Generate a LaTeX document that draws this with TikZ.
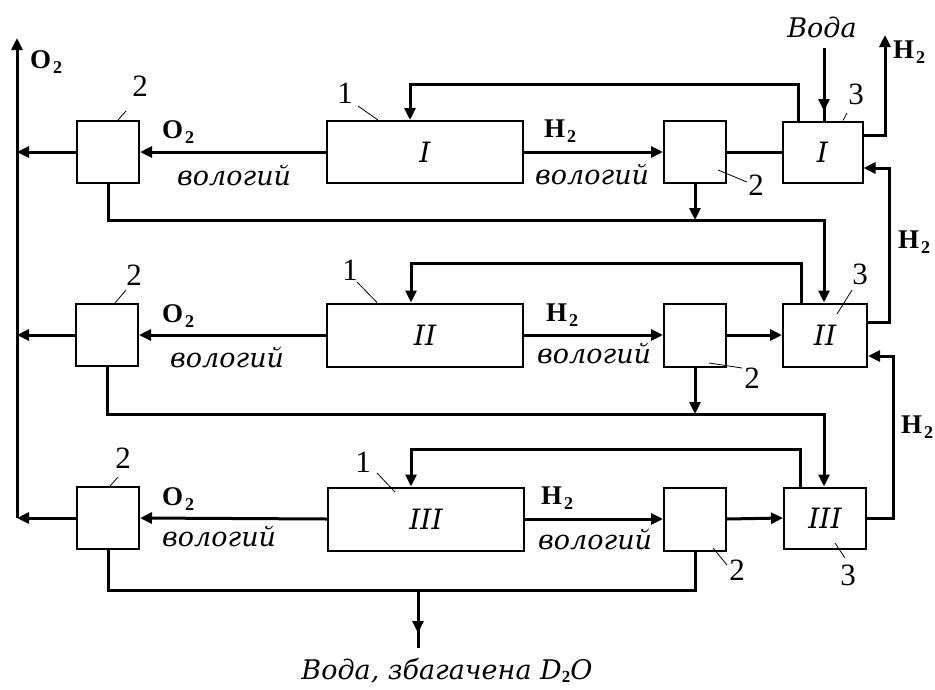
\documentclass[tikz,border=0pt]{standalone}
\usepackage{fontspec}
\setmainfont{Liberation Serif}
\newfontfamily\wfont{DejaVu Serif}
\usetikzlibrary{arrows.meta}
\newcommand\subtwo{\hspace{2pt}\raisebox{-5pt}{\fontsize{18}{18}\selectfont 2}}
\newcommand\subtwob{{\normalfont\bfseries\raisebox{-0.3ex}{\fontsize{17}{17}\selectfont 2}}}
\newcommand\romf{\wfont\itshape\fontsize{28}{28}\selectfont}
\begin{document}
\begin{tikzpicture}[x=1pt,y=-1pt,
  box/.style={draw, line width=2pt, inner sep=0pt},
  smallbox/.style={box, minimum width=62pt, minimum height=62pt},
  bigbox/.style={box, minimum width=196pt, minimum height=62pt, font=\romf},
  sepbox/.style={box, minimum width=80pt, minimum height=61pt, font=\romf},
  conn/.style={line width=3pt},
  arr/.style={conn, -{Triangle[length=12pt,width=11pt]}},
  leader/.style={line width=0.8pt},
  num/.style={font=\fontsize{31}{31}\selectfont, inner sep=0pt},
  chem/.style={font=\bfseries\fontsize{27}{27}\selectfont, inner sep=0pt},
  wet/.style={font=\wfont\itshape\fontsize{27}{27}\selectfont, inner sep=0pt}]
\useasboundingbox (0,0) rectangle (935,689);

% ---------- boxes ----------
\node[smallbox] (L1) at (108,152) {};
\node[bigbox]   (A1) at (425,152) {I};
\node[smallbox] (R1) at (695,152) {};
\node[sepbox]   (S1) at (822.5,152) {I};

\node[smallbox] (L2) at (107,335) {};
\node[bigbox, minimum height=63pt] (A2) at (425,335) {II};
\node[smallbox, minimum height=63pt] (R2) at (695,335) {};
\node[sepbox, minimum width=84pt, minimum height=63pt] (S2) at (825,335) {II};

\node[smallbox] (L3) at (108,518) {};
\node[bigbox, minimum height=63pt] (A3) at (426,519) {III};
\node[smallbox, minimum height=63pt] (R3) at (695,519) {};
\node[sepbox, minimum width=82pt] (S3) at (825,518) {III};

% ---------- left O2 collector ----------
\coordinate (Vb) at (17,518);
\coordinate (Vt) at (17,38);
\draw[arr] (Vb) -- (Vt);
\node[chem, anchor=base west] (o2top) at (30,68) {O\subtwo};
\draw[arr] (L1.west) -- (L1.west -| Vb);
\draw[arr] (L2.west) -- (L2.west -| Vb);
\draw[arr] (L3.west) -- (L3.west -| Vb);

% ---------- row flows ----------
\draw[arr] (A1.west) -- (L1.east);
\draw[arr] (A1.east) -- (R1.west);
\draw[conn] (R1.east) -- (S1.west);
\draw[arr] (A2.west) -- (L2.east);
\draw[arr] (A2.east) -- (R2.west);
\draw[arr] (R2.east) -- (S2.west);
\draw[arr] (A3.west) -- (L3.east);
\draw[arr] (A3.east) -- (R3.west);
\draw[arr] (R3.east) -- (S3.west);

% ---------- feedback loops ----------
\coordinate (F1) at (410,84);
\coordinate (F2) at (411,263);
\coordinate (F3) at (411,449);
\draw[arr] ([xshift=-24.5pt]S1.north) |- (F1) -- (F1 |- A1.north);
\draw[arr] ([xshift=-24pt]S2.north) |- (F2) -- (F2 |- A2.north);
\draw[arr] ([xshift=-25pt]S3.north) |- (F3) -- (F3 |- A3.north);

% ---------- cross links ----------
\coordinate (C1) at (824,220);
\coordinate (C2) at (824,414);
\draw[arr] (L1.south) |- (C1) -- (C1 |- S2.north);
\draw[arr] (R1.south) -- (R1.south |- C1);
\draw[arr] (L2.south) |- (C2) -- (C2 |- S3.north);
\draw[arr] (R2.south) -- (R2.south |- C2);

\coordinate (B) at (418,590);
\coordinate (Bt) at (418,633);
\coordinate (Be) at (418,648);
\draw[conn] (L3.south) |- (B) -| (R3.south);
\draw[conn] (B) -- (Be);
\draw[arr] (B) -- (Bt);
\node[wet, anchor=base] (prod) at (447,679) {Вода, збагачена D\subtwob O};

% ---------- water in, H2 out ----------
\node[wet, anchor=base] (water) at (822,37) {Вода};
\coordinate (W) at (824,48);
\coordinate (Wt) at (824,111);
\draw[conn] (W) -- (W |- S1.north);
\draw[arr] (W) -- (Wt);

\coordinate (Ht) at (885,35);
\draw[arr] ([yshift=17pt]S1.east) -| (Ht);
\node[chem, anchor=base west] (h2top) at (893,58) {H\subtwo};

\coordinate (K1) at (889,168);
\coordinate (K2) at (893,356);
\draw[arr] ([yshift=13pt]S2.east) -| (K1) -- (K1 -| S1.east);
\draw[arr] (S3.east) -| (K2) -- (K2 -| S2.east);
\node[chem, anchor=base] (h2a) at (914,248) {H\subtwo};
\node[chem, anchor=base] (h2b) at (917,433) {H\subtwo};

% ---------- stream labels ----------
\node[chem, anchor=base west] (o2r1) at (162,138) {O\subtwo};
\node[chem, anchor=base west] (o2r2) at (162,322) {O\subtwo};
\node[chem, anchor=base west] (o2r3) at (162,505) {O\subtwo};
\node[wet, anchor=base west] (wl1) at (177,185) {вологий};
\node[wet, anchor=base west] (wl2) at (170,367) {вологий};
\node[wet, anchor=base west] (wl3) at (162,546) {вологий};
\node[chem, anchor=base west] (h2r1) at (544,137) {H\subtwo};
\node[chem, anchor=base west] (h2r2) at (546,321) {H\subtwo};
\node[chem, anchor=base west] (h2r3) at (541,504) {H\subtwo};
\node[wet, anchor=base west] (wr1) at (535,184) {вологий};
\node[wet, anchor=base west] (wr2) at (537,363) {вологий};
\node[wet, anchor=base west] (wr3) at (538,549) {вологий};

% ---------- reference numbers ----------
\node[num] (n2a) at (140,86) {2};
\draw[leader] ([shift={(-14pt,-25pt)}]n2a.center) -- ([xshift=10pt]L1.north);
\node[num] (n1a) at (345,93) {1};
\draw[leader] ([shift={(13pt,-13pt)}]n1a.center) -- ([xshift=-47pt]A1.north);
\node[num] (n3a) at (856,94) {3};
\draw[leader] ([shift={(-9pt,-19pt)}]n3a.center) -- ([xshift=20.5pt]S1.north);
\node[num] (n2b) at (756,185) {2};
\draw[leader] ([shift={(-9pt,3pt)}]n2b.center) -- ([shift={(23pt,-18pt)}]R1.center);

\node[num] (n2c) at (134,275) {2};
\draw[leader] ([shift={(-8pt,-15pt)}]n2c.center) -- ([xshift=8pt]L2.north);
\node[num] (n1b) at (350,270) {1};
\draw[leader] ([shift={(7pt,-12pt)}]n1b.center) -- ([xshift=-48pt]A2.north);
\node[num] (n3b) at (860,274) {3};
\draw[leader] ([shift={(-8pt,-16pt)}]n3b.center) -- ([shift={(12pt,21pt)}]S2.center);
\node[num] (n2d) at (752,378) {2};
\draw[leader] ([shift={(-10pt,10pt)}]n2d.center) -- ([shift={(14pt,-28pt)}]R2.center);

\node[num] (n2e) at (123,458) {2};
\draw[leader] ([shift={(-5pt,-19pt)}]n2e.center) -- ([xshift=2pt]L3.north);
\node[num] (n1c) at (363,462) {1};
\draw[leader] ([shift={(14pt,-11pt)}]n1c.center) -- ([shift={(-31pt,27pt)}]A3.center);
\node[num] (n2f) at (737,570) {2};
\draw[leader] ([shift={(-10pt,5pt)}]n2f.center) -- ([shift={(18pt,-29pt)}]R3.center);
\node[num] (n3c) at (848,575) {3};
\draw[leader] ([shift={(-3pt,17pt)}]n3c.center) -- ([shift={(10pt,-25pt)}]S3.center);
\end{tikzpicture}
\end{document}
